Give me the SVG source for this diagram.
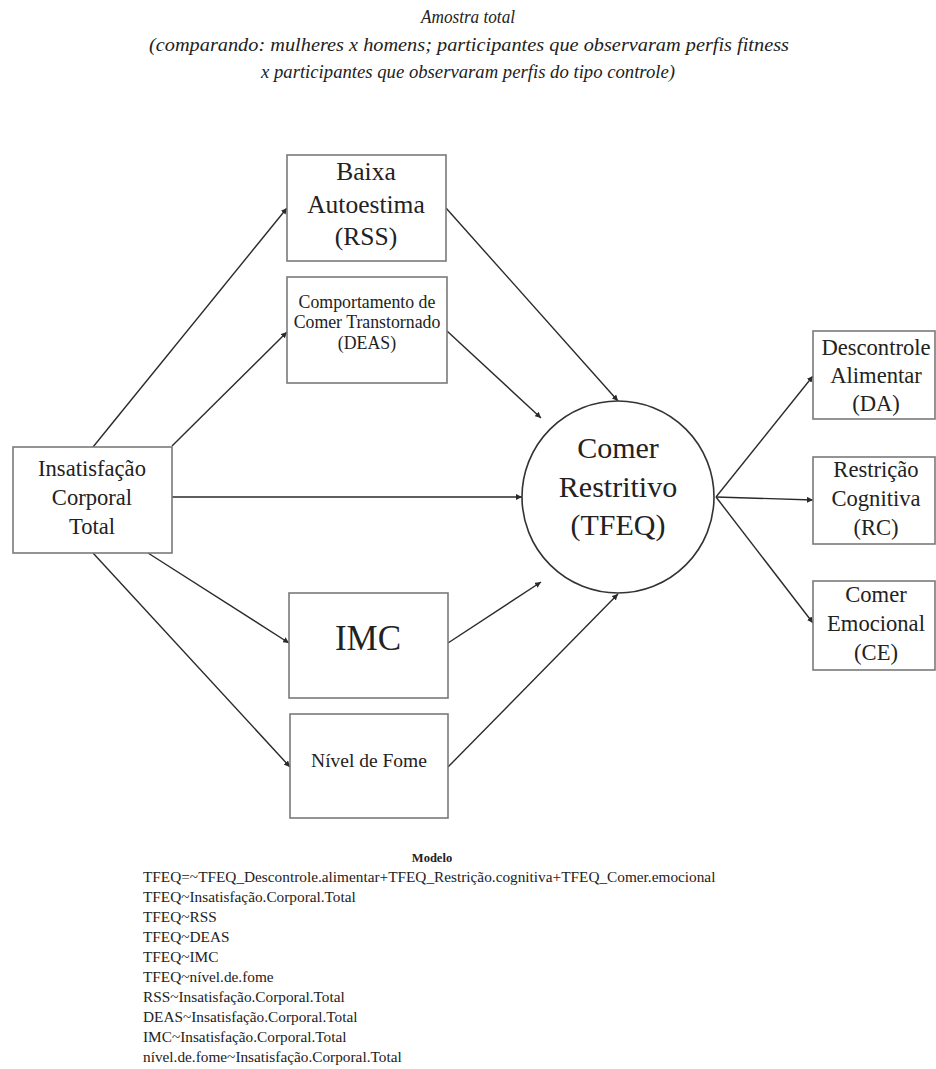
<svg xmlns="http://www.w3.org/2000/svg" width="936" height="1069" viewBox="0 0 936 1069">
  <style>
    .t { font-family: "Liberation Serif", "Times New Roman", serif; fill: #222; text-anchor: middle; }
    .ti { font-style: italic; font-size: 19px; }
    .box { fill: #fff; stroke: #7a7a7a; stroke-width: 1.6; }
    .circ { fill: #fff; stroke: #333; stroke-width: 1.6; }
    .edge { stroke: #2a2a2a; stroke-width: 1.4; fill: none; marker-end: url(#arr); }
    .code { font-family: "Liberation Serif", "Times New Roman", serif; fill: #222; font-size: 15.3px; }
  </style>
  <defs>
    <marker id="arr" viewBox="0 0 10 10" refX="10" refY="5" markerWidth="6" markerHeight="6" markerUnits="userSpaceOnUse" orient="auto">
      <path d="M0,0 L10,5 L0,10 z" fill="#2a2a2a"/>
    </marker>
  </defs>
  <rect width="936" height="1069" fill="#fff"/>

  <!-- heading -->
  <g id="title">
    <text class="t ti" x="468" y="23" textLength="94" lengthAdjust="spacingAndGlyphs">Amostra total</text>
    <text class="t ti" x="469" y="51" textLength="640" lengthAdjust="spacingAndGlyphs">(comparando: mulheres x homens; participantes que observaram perfis fitness</text>
    <text class="t ti" x="468" y="78" textLength="414" lengthAdjust="spacingAndGlyphs">x participantes que observaram perfis do tipo controle)</text>
  </g>

  <!-- paths of the model -->
  <g id="connectors">
    <line class="edge" x1="93" y1="447" x2="287" y2="208"/>
    <line class="edge" x1="172" y1="446" x2="287" y2="332"/>
    <line class="edge" x1="172" y1="497" x2="522" y2="497"/>
    <line class="edge" x1="148" y1="553" x2="289" y2="643"/>
    <line class="edge" x1="93" y1="553" x2="290" y2="767"/>
    <line class="edge" x1="446" y1="208" x2="618" y2="401"/>
    <line class="edge" x1="447" y1="331" x2="541" y2="418"/>
    <line class="edge" x1="448" y1="643" x2="541" y2="582"/>
    <line class="edge" x1="448" y1="767" x2="618" y2="594"/>
    <line class="edge" x1="716" y1="497" x2="813" y2="376"/>
    <line class="edge" x1="716" y1="497" x2="813" y2="500"/>
    <line class="edge" x1="716" y1="497" x2="813" y2="623"/>
  </g>

  <g id="insatisfacao">
    <rect class="box" x="13" y="447" width="159" height="106"/>
    <text class="t" x="92" y="476" font-size="22.6">Insatisfação</text>
    <text class="t" x="92" y="505" font-size="22.6">Corporal</text>
    <text class="t" x="92" y="534" font-size="22.6">Total</text>
  </g>

  <g id="rss">
    <rect class="box" x="287" y="155" width="159" height="106"/>
    <text class="t" x="366" y="180" font-size="25.5">Baixa</text>
    <text class="t" x="366" y="213" font-size="25.5">Autoestima</text>
    <text class="t" x="366" y="245" font-size="25.5">(RSS)</text>
  </g>

  <g id="deas">
    <rect class="box" x="287" y="277" width="160" height="106"/>
    <text class="t" x="367" y="308" font-size="17.8">Comportamento de</text>
    <text class="t" x="367" y="328" font-size="17.8">Comer Transtornado</text>
    <text class="t" x="367" y="349" font-size="17.8">(DEAS)</text>
  </g>

  <g id="imc">
    <rect class="box" x="289" y="593" width="159" height="105"/>
    <text class="t" x="368" y="650" font-size="35">IMC</text>
  </g>

  <g id="fome">
    <rect class="box" x="290" y="714" width="158" height="104"/>
    <text class="t" x="369" y="767" font-size="19.5">Nível de Fome</text>
  </g>

  <g id="tfeq">
    <circle class="circ" cx="618" cy="497" r="96"/>
    <text class="t" x="618" y="458" font-size="30">Comer</text>
    <text class="t" x="618" y="497" font-size="30">Restritivo</text>
    <text class="t" x="618" y="535" font-size="30">(TFEQ)</text>
  </g>

  <g id="da">
    <rect class="box" x="813" y="331" width="122" height="88"/>
    <text class="t" x="876" y="355" font-size="22.6">Descontrole</text>
    <text class="t" x="876" y="383" font-size="22.6">Alimentar</text>
    <text class="t" x="876" y="411" font-size="22.6">(DA)</text>
  </g>

  <g id="rc">
    <rect class="box" x="813" y="457" width="122" height="87"/>
    <text class="t" x="876" y="477" font-size="22.6">Restrição</text>
    <text class="t" x="876" y="506" font-size="22.6">Cognitiva</text>
    <text class="t" x="876" y="535" font-size="22.6">(RC)</text>
  </g>

  <g id="ce">
    <rect class="box" x="813" y="581" width="122" height="89"/>
    <text class="t" x="876" y="602" font-size="22.6">Comer</text>
    <text class="t" x="876" y="631" font-size="22.6">Emocional</text>
    <text class="t" x="876" y="660" font-size="22.6">(CE)</text>
  </g>

  <!-- lavaan model syntax -->
  <g id="modelo">
    <text class="t" x="432" y="862" font-size="12.5" font-weight="bold">Modelo</text>
    <text class="code" x="143" y="882">TFEQ=~TFEQ_Descontrole.alimentar+TFEQ_Restrição.cognitiva+TFEQ_Comer.emocional</text>
    <text class="code" x="143" y="902">TFEQ~Insatisfação.Corporal.Total</text>
    <text class="code" x="143" y="922">TFEQ~RSS</text>
    <text class="code" x="143" y="942">TFEQ~DEAS</text>
    <text class="code" x="143" y="962">TFEQ~IMC</text>
    <text class="code" x="143" y="982">TFEQ~nível.de.fome</text>
    <text class="code" x="143" y="1002">RSS~Insatisfação.Corporal.Total</text>
    <text class="code" x="143" y="1022">DEAS~Insatisfação.Corporal.Total</text>
    <text class="code" x="143" y="1042">IMC~Insatisfação.Corporal.Total</text>
    <text class="code" x="143" y="1062">nível.de.fome~Insatisfação.Corporal.Total</text>
  </g>
</svg>
